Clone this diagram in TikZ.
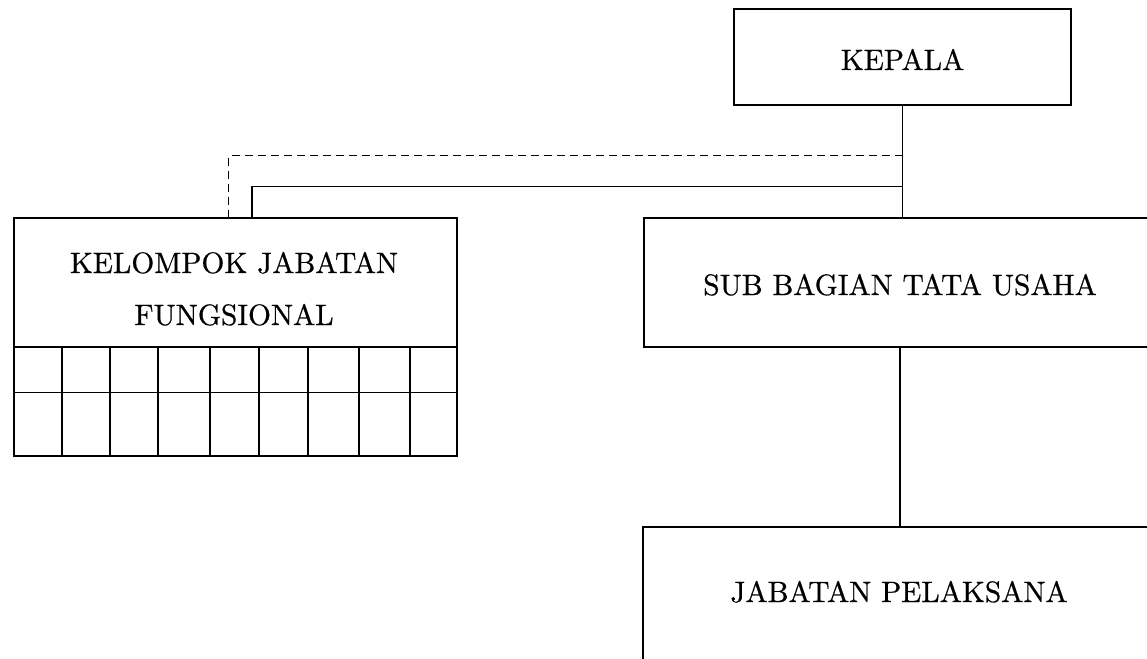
\documentclass[tikz,border=0pt]{standalone}
\usepackage{fontspec}
\setmainfont{lmroman10-regular.otf}
\newfontfamily\boxfont{lmroman10-regular.otf}[FakeBold=0.6]
\begin{document}
\begin{tikzpicture}[x=1pt,y=-1pt,
  box/.style={draw=black,line width=1.3pt,inner sep=0pt,outer sep=0pt},
  txt/.style={anchor=base,inner sep=0pt,font=\boxfont\fontsize{29.5}{35}\selectfont},
  conn/.style={draw=black,line width=1.1pt},
  dashline/.style={draw=black,line width=1.2pt,dash pattern=on 8pt off 5pt}]
\path[use as bounding box,fill=white] (0,0) rectangle (1147,658);
\clip (0,0) rectangle (1147,658);
% boxes
\node[box,minimum width=337pt,minimum height=96pt] (kepala) at (902.5,57) {};
\node[txt] (kepalat) at ([yshift=-13pt]kepala.center) {KEPALA};
\node[box,minimum width=512pt,minimum height=129pt] (sub) at (900,282.5) {};
\node[txt] (subt) at ([yshift=-12.5pt]sub.center) {SUB BAGIAN TATA USAHA};
\node[box,minimum width=512pt,minimum height=150pt] (jab) at (899,602) {};
\node[txt] (jabt) at (899,602) {JABATAN PELAKSANA};
\node[box,line width=1.5pt,minimum width=443pt,minimum height=238pt] (kjf) at (235.5,337) {};
\node[txt] (kjft1) at (234,273) {KELOMPOK JABATAN};
\node[txt] (kjft2) at (234,325) {FUNGSIONAL};
% grid in KELOMPOK box
\draw[line width=1.3pt] (14,347) -- (457,347);
\draw[line width=1.1pt] (14,392.5) -- (457,392.5);
\foreach \gx in {62,110,158,210,259,308,359,410}
  \draw[line width=1.1pt] (\gx,347) -- (\gx,456);
% connectors
\coordinate (dtop) at (228.5,155.5);
\coordinate (stop) at (252,186.5);
\draw[conn] (kepala.south) -- (kepala.south |- sub.north);
\draw[dashline] (kepala.south |- dtop) -- (dtop) -- (dtop |- kjf.north);
\draw[conn] (kepala.south |- stop) -- (stop) -- (stop |- kjf.north);
\draw[conn] (sub.south) -- (sub.south |- jab.north);
\end{tikzpicture}
\end{document}
